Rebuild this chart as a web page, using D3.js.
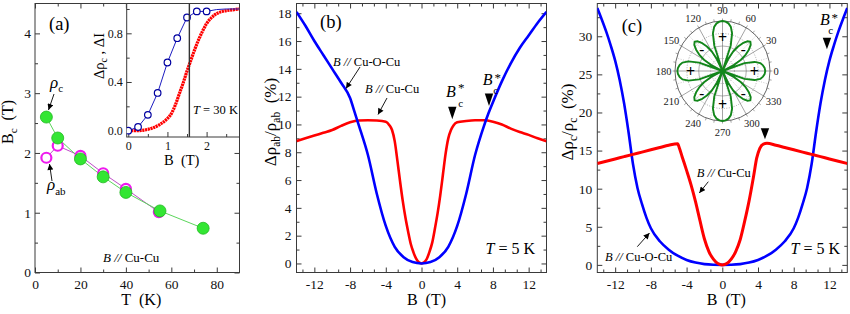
<!DOCTYPE html>
<html>
<head>
<meta charset="utf-8">
<script src="https://cdn.jsdelivr.net/npm/d3@7"></script>
<style>
  body { margin: 0; background: #fff; }
  svg { display: block; }
  svg text { font-family: "Liberation Serif", "Times New Roman", "DejaVu Serif", serif; }
</style>
</head>
<body>
<script>
// ---- panel (a): critical field vs temperature ----
const tempRhoC = [5, 10, 20, 30, 40, 55, 74];
const bcRhoC = [2.6, 2.25, 1.9, 1.6, 1.34, 1.03, 0.74];
const tempRhoAb = [5, 10, 20, 30, 40, 54.5];
const bcRhoAb = [1.92, 2.12, 1.95, 1.66, 1.4, 1.01];

// inset of (a), T = 30 K
const insetField = [0, 0.25, 0.5, 0.75, 1.0, 1.25, 1.5, 1.75, 2.0, 2.25, 2.5, 2.84];
const insetDrho = [0, 0.03, 0.13, 0.31, 0.56, 0.76, 0.93, 0.98, 0.98, 0.995, 1.0, 1.0];
const insetMarkers = 9; // circles only on the measured points
const insetFieldI = [0, 0.2, 0.4, 0.6, 0.8, 1.0, 1.1, 1.2, 1.3, 1.4, 1.5, 1.6, 1.7, 1.8, 1.9, 2.0, 2.1, 2.2, 2.4, 2.6, 2.84];
const insetDeltaI = [0, 0, 0.005, 0.02, 0.05, 0.1, 0.14, 0.21, 0.3, 0.39, 0.49, 0.58, 0.67, 0.75, 0.82, 0.88, 0.92, 0.95, 0.98, 0.99, 1.0];
const insetLineB = 1.56;

// ---- panel (b): in-plane MR at 5 K ----
const fieldB_OCu = [-14, -13, -12, -11, -10, -9, -8, -7.5, -7, -6, -5, -4, -3, -2, -1, 0, 1, 2, 3, 4, 5, 6, 7, 7.5, 8, 9, 10, 11, 12, 13, 14];
const mrB_OCu = [18.1, 17.1, 16.0, 15.0, 14.0, 13.0, 11.9, 10.9, 9.9, 7.8, 5.0, 2.7, 1.2, 0.45, 0.1, 0, 0.1, 0.45, 1.2, 2.7, 5.0, 7.8, 9.9, 10.8, 11.6, 13.1, 14.4, 15.5, 16.4, 17.3, 18.1];
const fieldB_Cu = [-14, -13, -12, -11, -10, -9, -8, -7, -6, -5, -4, -3.6, -3.3, -3.0, -2.7, -2.4, -2.1, -1.8, -1.5, -1.2, -0.9, -0.6, -0.3, 0, 0.3, 0.6, 0.9, 1.2, 1.5, 1.8, 2.1, 2.4, 2.7, 3.0, 3.3, 3.6, 4, 5, 6, 7, 8, 9, 10, 11, 12, 13, 14];
const mrB_Cu = [8.8, 9.0, 9.2, 9.4, 9.6, 9.9, 10.15, 10.28, 10.3, 10.28, 10.2, 9.95, 9.6, 8.8, 7.4, 5.9, 4.5, 3.3, 2.3, 1.4, 0.8, 0.34, 0.08, 0, 0.08, 0.34, 0.85, 1.5, 2.5, 3.6, 4.9, 6.4, 7.9, 9.0, 9.6, 9.95, 10.15, 10.25, 10.3, 10.3, 10.2, 10.0, 9.7, 9.45, 9.25, 9.0, 8.8];
const bcStarB = [3.45, 7.56];

// ---- panel (c): out-of-plane MR at 5 K ----
const fieldC_OCu = [-14, -13.5, -13, -12.5, -12, -11.5, -11, -10.5, -10, -9.5, -9, -8.5, -8, -7, -6, -5, -4, -3, -2, -1, 0, 1, 2, 3, 4, 5, 6, 7, 8, 8.5, 9, 9.5, 10, 10.5, 11, 11.5, 12, 12.5, 13, 13.5, 14];
const mrC_OCu = [33.7, 32.2, 30.6, 28.8, 26.8, 24.3, 21.2, 17.4, 13.2, 10.1, 8.0, 6.2, 4.8, 3.1, 2.0, 1.2, 0.65, 0.3, 0.1, 0.02, 0, 0.02, 0.1, 0.3, 0.65, 1.2, 2.0, 3.1, 4.8, 6.2, 8.0, 10.1, 13.2, 17.4, 21.2, 24.3, 26.8, 28.8, 30.6, 32.2, 33.7];
const fieldC_Cu = [-14, -13, -12, -11, -10, -9, -8, -7, -6, -5, -4.8, -4.5, -4.0, -3.5, -3.0, -2.5, -2.0, -1.5, -1.0, -0.5, 0, 0.5, 1.0, 1.5, 2.0, 2.5, 3.0, 3.5, 3.85, 4.2, 4.6, 5, 6, 7, 8, 9, 10, 11, 12, 13, 14];
const mrC_Cu = [13.3, 13.6, 13.9, 14.2, 14.5, 14.8, 15.1, 15.4, 15.7, 15.9, 15.3, 14.2, 12.4, 10.5, 8.3, 5.8, 3.4, 1.75, 0.75, 0.18, 0, 0.18, 0.75, 1.75, 3.3, 5.7, 8.4, 11.6, 14.0, 15.3, 15.85, 15.95, 15.7, 15.4, 15.1, 14.8, 14.5, 14.2, 13.9, 13.6, 13.3];
const bcStarC = [4.78, 11.72];

// polar inset: |MR| every 3.75 deg starting at 0 deg
const roseR = [
  0.90, 0.89, 0.86, 0.81, 0.70, 0.49, 0, 0.26, 0.45, 0.59, 0.70, 0.79,
  0.83, 0.79, 0.70, 0.59, 0.45, 0.26, 0, 0.54, 0.78, 0.90, 0.96, 0.99,
  1.00, 0.99, 0.96, 0.90, 0.78, 0.54, 0, 0.26, 0.45, 0.59, 0.70, 0.79,
  0.83, 0.79, 0.70, 0.59, 0.45, 0.26, 0, 0.52, 0.74, 0.86, 0.91, 0.94,
  0.95, 0.94, 0.91, 0.86, 0.74, 0.52, 0, 0.26, 0.45, 0.59, 0.70, 0.79,
  0.83, 0.79, 0.70, 0.59, 0.45, 0.26, 0, 0.54, 0.78, 0.90, 0.96, 0.99,
  1.00, 0.99, 0.96, 0.90, 0.78, 0.54, 0, 0.26, 0.45, 0.59, 0.70, 0.79,
  0.83, 0.79, 0.70, 0.59, 0.45, 0.26, 0, 0.49, 0.70, 0.81, 0.86, 0.89
];
const roseStep = 3.75;
const roseSigns = ['+', '-', '+', '-', '+', '-', '+', '-'];
const polarLabels = [0, 30, 60, 90, 120, 150, 180, 210, 240, 270, 300, 330];

const SERIF = '"Liberation Serif", "Times New Roman", serif';
const W = 850, H = 314;
const AXC = '#3a3a3a';

const svg = d3.select('body').append('svg')
  .attr('width', W).attr('height', H)
  .attr('font-family', SERIF);

const defs = svg.append('defs');
defs.append('marker')
  .attr('id', 'arr').attr('viewBox', '0 0 10 10')
  .attr('refX', 10).attr('refY', 5)
  .attr('markerUnits', 'userSpaceOnUse')
  .attr('markerWidth', 7).attr('markerHeight', 6)
  .attr('orient', 'auto')
  .append('path').attr('d', 'M0,0 L10,5 L0,10 z').attr('fill', '#000');

// text with sub/superscripts: parts = [{t, i, s (shift px, + = down), fs}]
function rich(text, parts) {
  let cur = 0;
  parts.forEach(p => {
    const ts = text.append('tspan').text(p.t);
    const s = p.s || 0;
    if (s !== cur) ts.attr('dy', s - cur);
    cur = s;
    if (p.i) ts.attr('font-style', 'italic');
    if (p.fs) ts.attr('font-size', p.fs);
  });
  return text;
}

function tickAxis(g, axisFn, scale, pos, vals, len, fmt, pad, fs) {
  const a = axisFn(scale).tickValues(vals).tickSize(-len)
    .tickPadding(pad || 0).tickFormat(fmt || (() => ''));
  const t = g.append('g').attr('transform', pos).call(a);
  t.select('.domain').remove();
  t.attr('font-size', fs || 13.5).attr('font-family', SERIF);
  t.selectAll('text').attr('fill', '#111');
  return t;
}

function frame(xs, ys, box, o) {
  const g = svg.append('g').attr('color', AXC);
  const fs = o.fs || 13.5;
  tickAxis(g, d3.axisBottom, xs, `translate(0,${box.b})`, o.xMajor, 5, o.fx, o.padX, fs);
  tickAxis(g, d3.axisBottom, xs, `translate(0,${box.b})`, o.xMinor, 3);
  tickAxis(g, d3.axisLeft, ys, `translate(${box.l},0)`, o.yMajor, 5, o.fy, o.padY, fs);
  tickAxis(g, d3.axisLeft, ys, `translate(${box.l},0)`, o.yMinor, 3);
  if (o.mirror) {
    tickAxis(g, d3.axisTop, xs, `translate(0,${box.t})`, o.xMajor, 5);
    tickAxis(g, d3.axisTop, xs, `translate(0,${box.t})`, o.xMinor, 3);
    tickAxis(g, d3.axisRight, ys, `translate(${box.r},0)`, o.yMajor, 5);
    tickAxis(g, d3.axisRight, ys, `translate(${box.r},0)`, o.yMinor, 3);
  }
  g.append('rect')
    .attr('x', box.l).attr('y', box.t)
    .attr('width', box.r - box.l).attr('height', box.b - box.t)
    .attr('fill', 'none').attr('stroke', AXC).attr('stroke-width', 1);
}

function clipFor(id, box) {
  defs.append('clipPath').attr('id', id).append('rect')
    .attr('x', box.l).attr('y', box.t)
    .attr('width', box.r - box.l).attr('height', box.b - box.t);
  return svg.append('g').attr('clip-path', `url(#${id})`);
}

function arrow(x1, y1, x2, y2) {
  svg.append('line')
    .attr('x1', x1).attr('y1', y1).attr('x2', x2).attr('y2', y2)
    .attr('stroke', '#000').attr('stroke-width', 0.9)
    .attr('marker-end', 'url(#arr)');
}

function downTriangle(x, tipY, h) {
  svg.append('path')
    .attr('d', `M${x - 4.2},${tipY - h} L${x + 4.2},${tipY - h} L${x},${tipY} Z`)
    .attr('fill', '#000');
}

function label(x, y, fs, parts, anchor) {
  const t = svg.append('text').attr('x', x).attr('y', y)
    .attr('font-size', fs).attr('text-anchor', anchor || 'start').attr('fill', '#000');
  return rich(t, parts);
}

function yTitle(x, y, fs, parts) {
  const t = svg.append('text')
    .attr('transform', `translate(${x},${y}) rotate(-90)`)
    .attr('text-anchor', 'middle').attr('font-size', fs).attr('fill', '#000');
  return rich(t, parts);
}

const fmtPlain = d => String(d);
const fieldMajor = [-12, -8, -4, 0, 4, 8, 12];
const fieldMinor = d3.range(-10, 11).filter(i => i % 3 !== 0).map(i => i * 4 / 3);

// ================= panel (a) =================
const boxA = { l: 35, r: 239.5, t: 3.5, b: 272.5 };
const xA = d3.scaleLinear().domain([0, 90]).range([boxA.l, boxA.r]);
const yA = d3.scaleLinear().domain([0, 4.5]).range([boxA.b, boxA.t]);
frame(xA, yA, boxA, {
  xMajor: [0, 20, 40, 60, 80], xMinor: [10, 30, 50, 70],
  yMajor: [0, 1, 2, 3, 4], yMinor: [0.5, 1.5, 2.5, 3.5],
  fx: fmtPlain, fy: fmtPlain, padX: 7, padY: 4, mirror: true
});

const lineA = d3.line().x(d => xA(d[0])).y(d => yA(d[1]));
const gA = clipFor('clipA', boxA);
gA.append('path').datum(d3.zip(tempRhoAb, bcRhoAb)).attr('d', lineA)
  .attr('fill', 'none').attr('stroke', '#c04cc8').attr('stroke-width', 1);
gA.append('path').datum(d3.zip(tempRhoC, bcRhoC)).attr('d', lineA)
  .attr('fill', 'none').attr('stroke', '#5cd65c').attr('stroke-width', 1);
gA.selectAll('.ab').data(d3.zip(tempRhoAb, bcRhoAb)).enter().append('circle')
  .attr('cx', d => xA(d[0])).attr('cy', d => yA(d[1])).attr('r', 5)
  .attr('fill', '#fff').attr('stroke', '#ee1aee').attr('stroke-width', 2.2);
gA.selectAll('.c').data(d3.zip(tempRhoC, bcRhoC)).enter().append('circle')
  .attr('cx', d => xA(d[0])).attr('cy', d => yA(d[1])).attr('r', 6)
  .attr('fill', '#33e633').attr('stroke', '#1fb81f').attr('stroke-width', 0.8);

label(49, 30, 18.5, [{ t: '(a)' }]);
label(50, 88, 17, [{ t: 'ρ', i: true }, { t: 'c', s: 4, fs: 11 }]);
arrow(54, 94, 48.5, 110);
label(47, 190, 17, [{ t: 'ρ', i: true }, { t: 'ab', s: 5, fs: 11 }]);
arrow(52, 181, 49.5, 164);
label(103, 262, 13, [{ t: 'B //', i: true }, { t: ' Cu-Cu' }]);
label((boxA.l + boxA.r) / 2 + 4, 305, 16, [{ t: 'T\u00a0\u00a0(K)' }], 'middle');
yTitle(13, 122, 16, [{ t: 'B' }, { t: 'c', s: 4, fs: 11 }, { t: '\u00a0\u00a0(T)', s: 0 }]);

// ---- inset of (a) ----
const boxI = { l: 126.7, r: 239.5, t: 3.5, b: 137 };
svg.append('rect').attr('x', boxI.l).attr('y', boxI.t)
  .attr('width', boxI.r - boxI.l).attr('height', boxI.b - boxI.t).attr('fill', '#fff');
const xI = d3.scaleLinear().domain([-0.04, 2.84]).range([boxI.l, boxI.r]);
const yI = d3.scaleLinear().domain([-0.052, 1.045]).range([boxI.b, boxI.t]);
frame(xI, yI, boxI, {
  xMajor: [0, 1, 2], xMinor: [0.5, 1.5, 2.5],
  yMajor: [0, 0.4, 0.8], yMinor: [0.2, 0.6, 1.0],
  fx: fmtPlain, fy: d3.format('.1f'), padX: 4, padY: 4, fs: 12, mirror: false
});
const gI = clipFor('clipI', boxI);
const lineI = d3.line().x(d => xI(d[0])).y(d => yI(d[1]));
gI.append('path').datum(d3.zip(insetFieldI, insetDeltaI))
  .attr('d', lineI.curve(d3.curveMonotoneX))
  .attr('fill', 'none').attr('stroke', '#ff0000').attr('stroke-width', 3.2)
  .attr('stroke-dasharray', '2.2,0.6');
gI.append('path').datum(d3.zip(insetField, insetDrho))
  .attr('d', d3.line().x(d => xI(d[0])).y(d => yI(d[1])))
  .attr('fill', 'none').attr('stroke', '#1c1cc0').attr('stroke-width', 1);
gI.selectAll('.o').data(d3.zip(insetField, insetDrho).slice(0, insetMarkers)).enter()
  .append('circle')
  .attr('cx', d => xI(d[0])).attr('cy', d => yI(d[1])).attr('r', 3.3)
  .attr('fill', '#fff').attr('stroke', '#0000a0').attr('stroke-width', 1.2);
gI.append('line')
  .attr('x1', xI(insetLineB)).attr('x2', xI(insetLineB))
  .attr('y1', boxI.t).attr('y2', boxI.b)
  .attr('stroke', '#333').attr('stroke-width', 1.4);
label(193, 114, 12.5, [{ t: 'T', i: true }, { t: ' = 30 K' }]);
label(181.7, 165, 14.5, [{ t: 'B\u00a0\u00a0(T)' }], 'middle');
yTitle(104, 56, 14.5, [{ t: 'Δρ' }, { t: 'c', s: 3, fs: 10 }, { t: ' , ΔI', s: 0 }]);

// ================= panel (b) =================
const boxB = { l: 296.5, r: 546.5, t: 3.5, b: 272.5 };
const xB = d3.scaleLinear().domain([-14, 14]).range([boxB.l, boxB.r]);
const yB = d3.scaleLinear().domain([-0.65, 18.7]).range([boxB.b, boxB.t]);
frame(xB, yB, boxB, {
  xMajor: fieldMajor, xMinor: fieldMinor,
  yMajor: d3.range(0, 19, 2), yMinor: d3.range(1, 19, 2),
  fx: fmtPlain, fy: fmtPlain, padX: 7, padY: 5, mirror: true
});
const gB = clipFor('clipB', boxB);
const lineB = d3.line().x(d => xB(d[0])).y(d => yB(d[1])).curve(d3.curveMonotoneX);
gB.append('path').datum(d3.zip(fieldB_Cu, mrB_Cu)).attr('d', lineB)
  .attr('fill', 'none').attr('stroke', '#ff0000').attr('stroke-width', 2.6);
gB.append('path').datum(d3.zip(fieldB_OCu, mrB_OCu)).attr('d', lineB)
  .attr('fill', 'none').attr('stroke', '#0000ff').attr('stroke-width', 2.6);

label(320, 28, 18.5, [{ t: '(b)' }]);
label(333, 66, 12.5, [{ t: 'B //', i: true }, { t: ' Cu-O-Cu' }]);
arrow(360, 67, 346, 88.5);
label(365, 92.7, 12.5, [{ t: 'B //', i: true }, { t: ' Cu-Cu' }]);
arrow(387, 98, 378, 114.5);
// B_c* markers
downTriangle(xB(bcStarB[0]), 119.3, 12.6);
label(446, 96.7, 16, [{ t: 'B', i: true }]);
label(458, 91.5, 13, [{ t: '*' }]);
label(458.3, 106.5, 11, [{ t: 'c' }]);
downTriangle(xB(bcStarB[1]), 106, 12.6);
label(482.7, 85, 16, [{ t: 'B', i: true }]);
label(494.5, 81.5, 13, [{ t: '*' }]);
label(493.3, 93.5, 11, [{ t: 'c' }]);
label(535, 254, 16, [{ t: 'T', i: true }, { t: ' = 5 K' }], 'end');
label((boxB.l + boxB.r) / 2 + 5, 305, 16, [{ t: 'B\u00a0\u00a0(T)' }], 'middle');
yTitle(276, 122, 17, [{ t: 'Δρ' }, { t: 'ab', s: 4, fs: 11.5 }, { t: '/ρ', s: 0 }, { t: 'ab', s: 4, fs: 11.5 }, { t: '\u00a0\u00a0(%)', s: 0 }]);

// ================= panel (c) =================
const boxC = { l: 597.3, r: 847.3, t: 3.5, b: 272.5 };
const xC = d3.scaleLinear().domain([-14, 14]).range([boxC.l, boxC.r]);
const yC = d3.scaleLinear().domain([-1, 34.3]).range([boxC.b, boxC.t]);
frame(xC, yC, boxC, {
  xMajor: fieldMajor, xMinor: fieldMinor,
  yMajor: d3.range(0, 31, 5), yMinor: d3.range(2.5, 34, 5),
  fx: fmtPlain, fy: fmtPlain, padX: 7, padY: 5, mirror: true
});
const gC = clipFor('clipC', boxC);
const lineC = d3.line().x(d => xC(d[0])).y(d => yC(d[1])).curve(d3.curveMonotoneX);
gC.append('path').datum(d3.zip(fieldC_OCu, mrC_OCu)).attr('d', lineC)
  .attr('fill', 'none').attr('stroke', '#0000ff').attr('stroke-width', 2.6);
gC.append('path').datum(d3.zip(fieldC_Cu, mrC_Cu)).attr('d', lineC)
  .attr('fill', 'none').attr('stroke', '#ff0000').attr('stroke-width', 3);

label(621.7, 31.7, 18.5, [{ t: '(c)' }]);
downTriangle(xC(bcStarC[1]), 49.3, 11.6);
label(820, 25, 16, [{ t: 'B', i: true }]);
label(831.5, 22, 13, [{ t: '*' }]);
label(828.3, 33.5, 11, [{ t: 'c' }]);
downTriangle(xC(bcStarC[0]), 139.3, 11);
label(696.7, 176.7, 12.5, [{ t: 'B //', i: true }, { t: ' Cu-Cu' }]);
arrow(708.3, 181.7, 699.3, 193);
label(605, 260.7, 12.5, [{ t: 'B //', i: true }, { t: ' Cu-O-Cu' }]);
arrow(637.3, 246.7, 649.5, 233);
label(840, 254, 16, [{ t: 'T', i: true }, { t: ' = 5 K' }], 'end');
label((boxC.l + boxC.r) / 2 + 4, 305, 16, [{ t: 'B\u00a0\u00a0(T)' }], 'middle');
yTitle(573, 122, 17, [{ t: 'Δρ' }, { t: 'c', s: 4, fs: 11.5 }, { t: '/ρ', s: 0 }, { t: 'c', s: 4, fs: 11.5 }, { t: '\u00a0\u00a0(%)', s: 0 }]);

// ---- polar inset in (c) ----
const pcx = 722.5, pcy = 71;
const prx = d3.scaleLinear().domain([0, 1]).range([0, 47.5]);
const pry = d3.scaleLinear().domain([0, 1]).range([0, 50]);
const rad = a => a * Math.PI / 180;
const gP = svg.append('g');
[0.25, 0.5, 0.75].forEach((f, i) => {
  gP.append('ellipse').attr('cx', pcx).attr('cy', pcy)
    .attr('rx', prx(f)).attr('ry', pry(f))
    .attr('fill', 'none').attr('stroke', '#777').attr('stroke-width', 0.6)
    .attr('stroke-dasharray', i === 1 ? null : '1,1.5');
});
d3.range(0, 360, 15).forEach(a => {
  const major = a % 30 === 0;
  gP.append('line')
    .attr('x1', pcx).attr('y1', pcy)
    .attr('x2', pcx + prx(1) * Math.cos(rad(a)))
    .attr('y2', pcy - pry(1) * Math.sin(rad(a)))
    .attr('stroke', major ? '#666' : '#999').attr('stroke-width', major ? 0.6 : 0.5)
    .attr('stroke-dasharray', major ? null : '1,1.5');
});
d3.range(0, 360, 10).forEach(a => {
  gP.append('line')
    .attr('x1', pcx + prx(1) * Math.cos(rad(a))).attr('y1', pcy - pry(1) * Math.sin(rad(a)))
    .attr('x2', pcx + prx(1.05) * Math.cos(rad(a))).attr('y2', pcy - pry(1.05) * Math.sin(rad(a)))
    .attr('stroke', '#666').attr('stroke-width', 0.6);
});
gP.append('ellipse').attr('cx', pcx).attr('cy', pcy)
  .attr('rx', prx(1)).attr('ry', pry(1))
  .attr('fill', 'none').attr('stroke', '#555').attr('stroke-width', 0.9);
gP.append('circle').attr('cx', pcx).attr('cy', pcy).attr('r', 2).attr('fill', '#666');

const roseLine = d3.line()
  .x((r, i) => pcx + prx(r) * Math.cos(rad(i * roseStep)))
  .y((r, i) => pcy - pry(r) * Math.sin(rad(i * roseStep)))
  .curve(d3.curveLinearClosed);
gP.append('path').datum(roseR).attr('d', roseLine)
  .attr('fill', 'none').attr('stroke', '#12861a').attr('stroke-width', 1.9)
  .attr('stroke-linejoin', 'round');

roseSigns.forEach((s, i) => {
  const a = rad(i * 45);
  const f = s === '+' ? 0.67 : 0.62;
  gP.append('text')
    .attr('x', pcx + prx(f) * Math.cos(a)).attr('y', pcy - pry(f) * Math.sin(a))
    .attr('text-anchor', 'middle').attr('dominant-baseline', 'central')
    .attr('font-size', s === '+' ? 16 : 15).attr('font-weight', 'bold').attr('fill', '#000')
    .text(s);
});
polarLabels.forEach(a => {
  const txt = String(a);
  const w = txt.length * 5.3;
  gP.append('text')
    .attr('x', pcx + (51 + w / 2) * Math.cos(rad(a)))
    .attr('y', pcy - 61 * Math.sin(rad(a)))
    .attr('text-anchor', 'middle').attr('dominant-baseline', 'central')
    .attr('font-size', 10.5).attr('fill', '#222')
    .text(txt);
});
</script>
</body>
</html>
